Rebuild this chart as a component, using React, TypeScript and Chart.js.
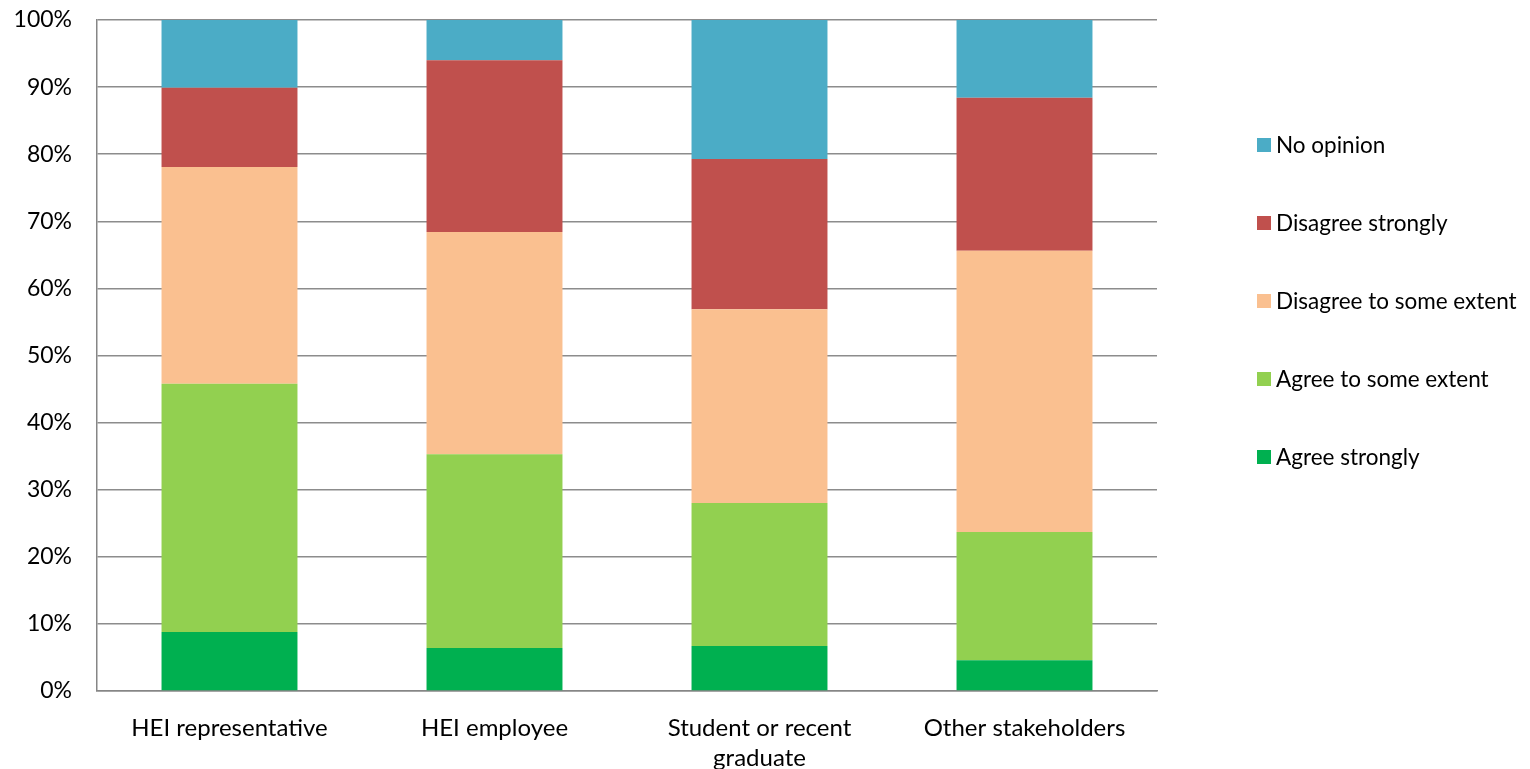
import React, { useEffect, useRef } from "react";
import { Chart, registerables } from "chart.js";

Chart.register(...registerables);

const categories: (string | string[])[] = [
  "HEI representative",
  "HEI employee",
  ["Student or recent", "graduate"],
  "Other stakeholders",
];
const seriesNames = [
  "Agree strongly",
  "Agree to some extent",
  "Disagree to some extent",
  "Disagree strongly",
  "No opinion",
];
const seriesColors = ["#00B050", "#92D050", "#FAC090", "#C0504D", "#4BACC6"];
const agreeStrongly = [8.8, 6.4, 6.7, 4.6];
const agreeSome = [37.0, 28.9, 21.3, 19.1];
const disagreeSome = [32.3, 33.1, 28.9, 41.9];
const disagreeStrongly = [11.8, 25.6, 22.4, 22.8];
const noOpinion = [10.1, 6.0, 20.7, 11.6];
const seriesValues = [agreeStrongly, agreeSome, disagreeSome, disagreeStrongly, noOpinion];

const FONT = "Lato, 'Open Sans', sans-serif";

const legendPlugin = {
  id: "rightLegend",
  afterDraw(chart: any) {
    const ctx = chart.ctx;
    const area = chart.chartArea;
    ctx.save();
    ctx.font = `22.5px ${FONT}`;
    ctx.textBaseline = "middle";
    const n = chart.data.datasets.length;
    const x = area.right + 100;
    const y0 = 145;
    const step = 78;
    for (let i = 0; i < n; i++) {
      const ds = chart.data.datasets[n - 1 - i];
      const y = y0 + i * step;
      ctx.fillStyle = ds.backgroundColor;
      ctx.fillRect(x, y - 7, 14, 14);
      ctx.fillStyle = "#000";
      ctx.fillText(ds.label, x + 19, y + 1);
    }
    ctx.restore();
  },
};

export default function App() {
  const ref = useRef<HTMLCanvasElement>(null);
  useEffect(() => {
    if (!ref.current) return;
    const chart = new Chart(ref.current, {
      type: "bar",
      data: {
        labels: categories,
        datasets: seriesNames.map((name, i) => ({
          label: name,
          data: seriesValues[i],
          backgroundColor: seriesColors[i],
          borderWidth: 0,
          categoryPercentage: 1,
          barPercentage: 0.513,
        })),
      },
      options: {
        animation: false,
        responsive: false,
        maintainAspectRatio: false,
        layout: { padding: { top: 0, right: 373, bottom: 0, left: 0 } },
        plugins: {
          legend: { display: false },
          tooltip: { enabled: false },
        },
        scales: {
          x: {
            stacked: true,
            grid: { display: false, drawTicks: false },
            border: { display: true, color: "#868686", width: 1.5 },
            ticks: {
              color: "#000",
              font: { family: FONT, size: 24, lineHeight: 1.25 },
              padding: 22,
              maxRotation: 0,
              autoSkip: false,
            },
            afterFit: (s: any) => {
              s.height = 78;
            },
          },
          y: {
            stacked: true,
            min: 0,
            max: 100,
            grid: { color: "#8C8C8C", lineWidth: 1.5, drawTicks: false },
            border: { display: true, color: "#868686", width: 1.5 },
            ticks: {
              stepSize: 10,
              color: "#000",
              font: { family: FONT, size: 23 },
              padding: 25,
              callback: (v: any) => `${v}%`,
            },
            afterFit: (s: any) => {
              s.width = 97;
              s.paddingTop = 20;
              s.paddingBottom = 0;
            },
          },
        },
      },
      plugins: [legendPlugin],
    });
    return () => chart.destroy();
  }, []);
  return (
    <div style={{ position: "fixed", left: 0, top: 0, width: 1530, height: 769, background: "#fff" }}>
      <canvas ref={ref} width={1530} height={769} style={{ width: 1530, height: 769 }} />
    </div>
  );
}
